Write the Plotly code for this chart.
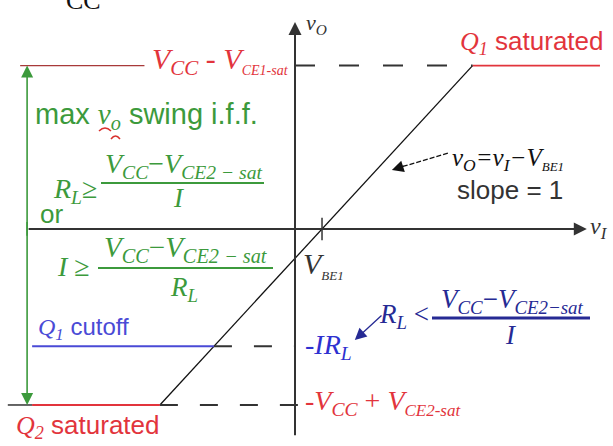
import plotly.graph_objects as go

# ---- transfer characteristic values (volts, schematic) ----
V_BE1 = 0.7            # threshold where v_O crosses zero
VO_HIGH = 3.9          # V_CC - V_CE1-sat  (Q1 saturated)
VO_LOW = -4.2          # -V_CC + V_CE2-sat (Q2 saturated)
VO_CUTOFF = -2.8       # -I*R_L            (Q1 cutoff)

# linear region v_O = v_I - V_BE1
vi_linear = [-3.5, 4.6]
vo_linear = [-4.2, 3.9]
# Q1 saturated plateau (right)
vi_sat_hi = [4.6, 7.9]
vo_sat_hi = [3.9, 3.9]
# reference level marker on the left
vi_ref_hi = [-7.12, -3.9]
vo_ref_hi = [3.9, 3.9]
# Q2 saturated plateau (left)
vi_sat_lo = [-6.81, -3.5]
vo_sat_lo = [-4.2, -4.2]
vi_lead = [-7.44, -6.81]
# Q1 cutoff plateau
vi_cut = [-6.81, -2.1]
vo_cut = [-2.8, -2.8]
# dashed projections to the v_O axis
vi_dash_hi = [0.0, 4.6]
vi_dash_cut = [-2.1, 0.0]
vi_dash_lo = [-3.5, 0.15]
# axes extents
vi_axis = [-6.94, 7.56]
vo_axis = [-4.96, 4.94]
swing_x = -6.94
tick_half = 0.27

W, H = 613, 446
X_RANGE = [-7.642, 8.238]
Y_RANGE = [-5.179, 5.465]

RED = "#e2343c"
GREEN = "#3c9a3c"
BLUE = "#4a4ad6"
NAVY = "#262a94"
DARK = "#333333"
SERIF = "Liberation Serif"
SANS = "Liberation Sans"

fig = go.Figure()


def seg(x, y, color, width, dash="solid"):
    fig.add_trace(go.Scatter(x=x, y=y, mode="lines", hoverinfo="skip",
                             line=dict(color=color, width=width, dash=dash)))


seg(vi_linear, vo_linear, "#111111", 1.3)
seg(vi_sat_hi, vo_sat_hi, RED, 1.8)
seg(vi_ref_hi, vo_ref_hi, "#a83a3a", 1.3)
seg(vi_sat_lo, vo_sat_lo, RED, 1.8)
seg(vi_lead, [vo_sat_lo[0]] * 2, DARK, 1.5)
seg(vi_cut, vo_cut, BLUE, 2)
seg(vi_dash_hi, [VO_HIGH] * 2, DARK, 2, "20px,24px")
seg(vi_dash_cut, [VO_CUTOFF] * 2, DARK, 2, "18px,22px")
seg(vi_dash_lo, [VO_LOW] * 2, DARK, 2, "18px,22px")
seg([V_BE1, V_BE1], [-tick_half, tick_half], DARK, 1.5)


def arrow(x, y, ax, ay, color, width, size, head=2):
    fig.add_annotation(x=x, y=y, ax=ax, ay=ay, xref="x", yref="y",
                       axref="x", ayref="y", text="", showarrow=True,
                       arrowhead=head, arrowsize=size, arrowwidth=width,
                       arrowcolor=color, standoff=0, startstandoff=0)


# axes with arrowheads
arrow(vi_axis[1], 0, vi_axis[0], 0, DARK, 2, 1.3)
arrow(0, vo_axis[1], 0, vo_axis[0], DARK, 2, 1.3)
# max swing double arrow
arrow(swing_x, VO_HIGH, swing_x, -0.2, GREEN, 1.6, 1.5)
arrow(swing_x, VO_LOW, swing_x, 0.2, GREEN, 1.6, 1.5)
# pointer to the linear region
seg([3.96, 2.75], [1.81, 1.48], "#111111", 1.3, "5px,2px")
arrow(2.51, 1.41, 2.85, 1.51, "#111111", 1.3, 1.8)
# pointer to -IR_L
arrow(1.55, -2.65, 2.28, -2.03, NAVY, 1.3, 1.8)


def P(px, py):
    return px / W, 1 - py / H


def label(px, py, text, size, color, family=SERIF, xanchor="left"):
    x, y = P(px, py)
    fig.add_annotation(x=x, y=y, xref="paper", yref="paper", text=text,
                       showarrow=False, xanchor=xanchor, yanchor="middle",
                       font=dict(family=family, size=size, color=color))


def rule(px0, px1, py, color, width):
    x0, y = P(px0, py)
    x1, _ = P(px1, py)
    fig.add_shape(type="line", xref="paper", yref="paper", x0=x0, x1=x1,
                  y0=y, y1=y, line=dict(color=color, width=width))


def squiggle(px0, px1, py, color):
    x0, y0 = P(px0, py)
    x1, _ = P(px1, py)
    xm, ym = P((px0 + px1) / 2, py - 6)
    fig.add_shape(type="path", xref="paper", yref="paper",
                  path=f"M {x0},{y0} Q {xm},{ym} {x1},{y0}",
                  line=dict(color=color, width=1.5))


def sm(s, size):
    return f'<span style="font-size:{size}px">{s}</span>'


def serif(s):
    return f'<span style="font-family:{SERIF}">{s}</span>'


# clipped caption fragment at the top
label(64, 0, "CC", 26, "#111111")

# levels
label(150, 61, f"<i>V<sub>CC</sub></i> - <i>V<sub>{sm('CE1-sat', 14)}</sub></i>", 30, RED)
label(458, 42, serif("<i>Q<sub>1</sub></i>") + " saturated", 26, RED, SANS)
label(304, 24, "<i>v<sub>O</sub></i>", 22, DARK)
label(588, 228, "<i>v<sub>I</sub></i>", 24, DARK)
label(301, 265, f"<i>V<sub>{sm('BE1', 13)}</sub></i>", 30, DARK)

# max swing conditions
label(33, 116, "max " + serif("<i>v<sub>o</sub></i>") + " swing i.f.f.", 29, GREEN, SANS)
squiggle(99, 111, 131, "#d8302c")
squiggle(111, 120, 139, "#d8302c")
num_g = "<i>V<sub>CC</sub></i>−<i>V<sub>CE2 − sat</sub></i>"
label(99, 190, "<i>R<sub>L</sub></i>≥", 28, GREEN, xanchor="right")
label(183, 166, num_g, 28, GREEN, xanchor="center")
rule(101, 264, 183, GREEN, 2)
label(179, 198, "<i>I</i>", 27, GREEN, xanchor="center")
label(38, 214, "or", 26, GREEN, SANS)
label(92, 266, "<i>I</i> ≥", 28, GREEN, xanchor="right")
label(186, 249, num_g, 29, GREEN, xanchor="center")
rule(98, 273, 268, GREEN, 2)
label(184, 289, "<i>R<sub>L</sub></i>", 27, GREEN, xanchor="center")

# slope annotation
label(450, 160, f"<i>v<sub>O</sub>=v<sub>I</sub>−V<sub>{sm('BE1', 13)}</sub></i>", 25, "#111111")
label(455, 190, "slope = 1", 26, DARK, SANS)

# cutoff region
label(36, 328, serif("<i>Q<sub>1</sub></i>") + " cutoff", 24, BLUE, SANS)
label(303, 346, "<i>-IR<sub>L</sub></i>", 28, "#2e30d0")
label(431, 316, "<i>R<sub>L</sub></i> <", 27, NAVY, xanchor="right")
label(512, 301, "<i>V<sub>CC</sub></i>−<i>V<sub>CE2−sat</sub></i>", 27, NAVY,
      xanchor="center")
rule(432, 590, 318, NAVY, 3)
label(511, 335, "<i>I</i>", 27, NAVY, xanchor="center")

# negative saturation
label(303, 402, f"<i>-V<sub>CC</sub></i> + <i>V<sub>{sm('CE2-sat', 17)}</sub></i>", 28, RED)
label(14, 426, serif("<i>Q<sub>2</sub></i>") + " saturated", 26, RED, SANS)

fig.update_layout(
    width=W, height=H, margin=dict(l=0, r=0, t=0, b=0),
    paper_bgcolor="white", plot_bgcolor="white", showlegend=False,
    xaxis=dict(range=X_RANGE, visible=False, fixedrange=True),
    yaxis=dict(range=Y_RANGE, visible=False, fixedrange=True),
)

fig.write_html("out.html")
